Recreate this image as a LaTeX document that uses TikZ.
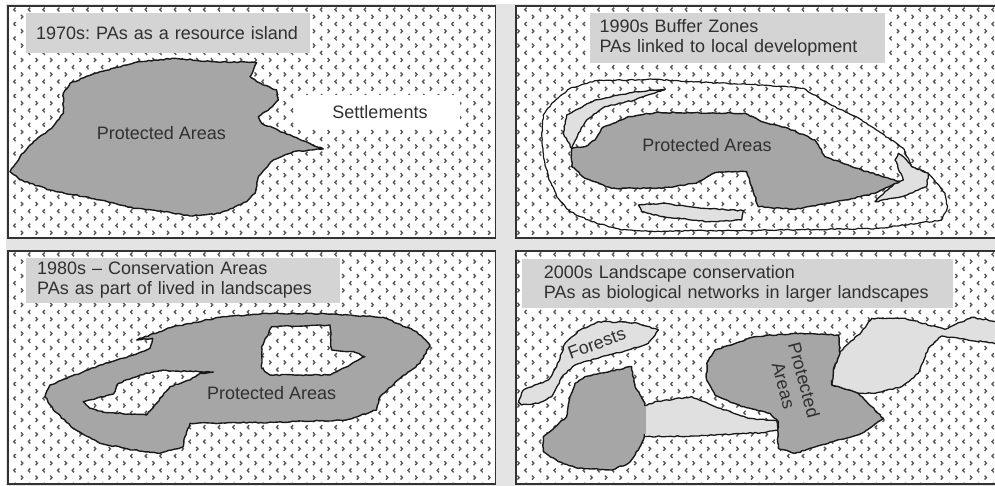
\documentclass[tikz,border=0pt]{standalone}
\usepackage{fontspec}
\setmainfont{Liberation Sans}
\usepackage{xcolor}
\usetikzlibrary{positioning, decorations.pathmorphing}
\definecolor{gapgray}{HTML}{E4E4E4}
\definecolor{pagray}{HTML}{A6A6A6}
\definecolor{buffergray}{HTML}{E0E0E0}
\definecolor{titlegray}{HTML}{D4D4D4}
\definecolor{inkgray}{HTML}{303030}
\tikzset{
    panel/.style={draw=black!80, line width=1.6pt, fill=white},
    chevron/.style={draw=black!65, line width=1.4pt},
    rough/.style={decorate, decoration={random steps, segment length=3pt, amplitude=0.6pt}, line join=round},
    area/.style={rough, draw=black!90, line width=1.4pt, fill=pagray},
    buffer/.style={rough, draw=black!90, line width=1.3pt, fill=buffergray},
    outline/.style={rough, draw=black!90, line width=1.2pt},
    title/.style={fill=titlegray, text=inkgray, anchor=north west, align=left, inner sep=0pt, font=\fontsize{18}{20}\selectfont},
    tag/.style={text=inkgray, align=center, inner sep=1pt, font=\fontsize{18}{21}\selectfont},
    zoomed/.style={x=0.33333pt, y=-0.33333pt},
}
\begin{document}
\frenchspacing
\begin{tikzpicture}[x=1pt, y=-1pt]
    \useasboundingbox (0,0) rectangle (995,486);
    \fill[gapgray] (6,4) rectangle (995,486);

    % Four panels
    \draw[panel] (8,6) rectangle (495.5,238);
    \draw[panel] (516,6) rectangle (997,238);
    \draw[panel] (8,251) rectangle (495.5,484);
    \draw[panel] (516,251) rectangle (997,484);

    % Dotted ground
    \begin{scope}
        \clip (9,7) rectangle (494.5,237) (517,7) rectangle (995,237)
              (9,252) rectangle (494.5,483) (517,252) rectangle (995,483);
        \foreach \col in {0,...,68}{
            \foreach \row in {0,...,33}{
                \draw[chevron] ({6.4+14.6*\col},{0.4+14.4*\row}) -- ++(1.8,2) -- ++(-1.8,2);
                \draw[chevron] ({15.6+14.6*\col},{7.6+14.4*\row}) -- ++(-1.8,2) -- ++(1.8,2);
            }
        }
    \end{scope}

    % 1970s
    \begin{scope}[zoomed]
        \draw[area] (30,515) -- (60,470) -- (100,425) -- (155,385) -- (190,340) -- (190,280) -- (210,250) -- (300,215) -- (420,185) -- (525,175) -- (640,185) -- (770,188) -- (750,230) -- (790,255) -- (830,270) -- (835,300) -- (810,325) -- (775,350) -- (785,370) -- (880,410) -- (970,447) -- (880,455) -- (820,480) -- (775,530) -- (765,580) -- (740,605) -- (660,640) -- (570,648) -- (500,635) -- (400,625) -- (300,600) -- (150,570) -- (60,540) -- cycle;
        \node[title, minimum width=284pt, minimum height=40pt, text width=274pt, inner xsep=5pt] (title70) at (78,38) {\hspace{5pt}1970s: PAs as a resource island};
        \node[tag] (pa70) at (484,400) {Protected Areas};
        \fill[white] (890,285) rectangle (1380,385);
        \node[tag] (settlements) at (1140,337) {Settlements};
    \end{scope}

    % 1990s
    \begin{scope}[shift={(495,0)}, zoomed]
        \draw[outline] (475,238) -- (400,240) -- (300,242) -- (225,265) -- (170,310) -- (145,345) -- (140,400) -- (145,470) -- (160,530) -- (185,590) -- (225,635) -- (290,665) -- (380,690) -- (480,695) -- (600,692) -- (720,692) -- (850,690) -- (1000,688) -- (1150,685) -- (1340,660) -- (1358,620) -- (1350,580) -- (1300,520) -- (1250,500) -- (1225,445) -- (1100,360) -- (1000,310) -- (925,265) -- (800,255) -- (650,248) -- cycle;
        \draw[buffer] (510,268) -- (420,275) -- (300,300) -- (215,345) -- (205,400) -- (230,445) -- (250,400) -- (275,360) -- (330,320) -- (420,300) -- cycle;
        \draw[buffer] (1210,460) -- (1200,480) -- (1225,540) -- (1205,545) -- (1140,605) -- (1220,590) -- (1295,560) -- (1300,520) -- (1250,500) -- (1225,470) -- cycle;
        \draw[buffer] (430,615) -- (500,610) -- (620,625) -- (745,632) -- (740,660) -- (640,665) -- (500,650) -- (440,635) -- cycle;
        \draw[area] (230,445) -- (270,440) -- (300,420) -- (320,385) -- (400,350) -- (480,338) -- (600,338) -- (750,340) -- (800,365) -- (880,385) -- (960,420) -- (990,470) -- (1100,510) -- (1215,545) -- (1140,580) -- (1050,600) -- (900,628) -- (790,620) -- (770,560) -- (755,515) -- (660,518) -- (600,550) -- (500,565) -- (350,565) -- (270,535) -- (230,500) -- cycle;
        \node[title, minimum width=295pt, minimum height=50pt, text width=283pt, inner xsep=6pt] (title90) at (283,38) {\hspace{4pt}1990s Buffer Zones\\\hspace{4pt}PAs linked to local development};
        \node[tag] (pa90) at (636,435) {Protected Areas};
    \end{scope}

    % 1980s
    \begin{scope}[shift={(0,240)}, zoomed]
        \draw[area, even odd rule] (135,470) -- (150,435) -- (300,375) -- (400,345) -- (450,325) -- (458,295) -- (410,300) -- (520,260) -- (670,230) -- (800,220) -- (1000,222) -- (1150,232) -- (1250,275) -- (1290,315) -- (1260,370) -- (1200,415) -- (1140,470) -- (1130,510) -- (1040,540) -- (820,547) -- (570,550) -- (555,590) -- (550,620) -- (480,640) -- (400,630) -- (300,610) -- (220,565) -- (160,510) -- cycle
            (250,485) -- (340,462) -- (355,430) -- (420,405) -- (480,392) -- (640,396) -- (600,400) -- (570,420) -- (510,440) -- (470,490) -- (440,525) -- (320,518) -- (270,505) -- cycle
            (785,320) -- (815,260) -- (990,255) -- (995,330) -- (1060,335) -- (1095,350) -- (1050,375) -- (990,405) -- (810,405) -- (785,385) -- cycle;
        \node[title, minimum width=314pt, minimum height=45pt, text width=302pt, inner xsep=6pt] (title80) at (78,52) {\hspace{5pt}1980s -- Conservation Areas\\\hspace{5pt}PAs as part of lived in landscapes};
        \node[tag] (pa80) at (815,460) {Protected Areas};
    \end{scope}

    % 2000s
    \begin{scope}[shift={(495,240)}, zoomed]
        \draw[buffer] (70,485) -- (85,450) -- (160,420) -- (185,380) -- (210,310) -- (255,270) -- (310,245) -- (420,248) -- (490,270) -- (460,310) -- (400,330) -- (320,350) -- (240,375) -- (205,405) -- (170,470) -- (130,490) -- (80,495) -- cycle;
        \draw[buffer] (448,500) -- (480,485) -- (590,470) -- (660,500) -- (760,535) -- (845,542) -- (850,570) -- (800,578) -- (600,588) -- (448,590) -- cycle;
        \draw[buffer] (1035,335) -- (1100,275) -- (1130,235) -- (1230,235) -- (1350,268) -- (1430,232) -- (1510,245) -- (1510,312) -- (1340,288) -- (1300,325) -- (1270,400) -- (1220,440) -- (1140,460) -- (1090,460) -- (1010,435) -- (1015,390) -- cycle;
        \draw[area] (145,590) -- (215,530) -- (225,470) -- (240,430) -- (270,410) -- (410,380) -- (420,440) -- (450,490) -- (448,590) -- (430,630) -- (400,670) -- (350,690) -- (250,685) -- (190,665) -- (145,635) -- cycle;
        \draw[pagray, line width=2.4pt] (448,498) -- (448,582);
        \draw[area] (635,370) -- (660,330) -- (780,290) -- (900,280) -- (1030,285) -- (1035,340) -- (1015,390) -- (1010,435) -- (1090,460) -- (1165,535) -- (1100,580) -- (1000,610) -- (900,640) -- (850,625) -- (848,570) -- (850,545) -- (825,520) -- (740,500) -- (660,465) -- (635,420) -- cycle;
        \node[title, minimum width=430pt, minimum height=49pt, text width=407pt, inner xsep=12pt] (title00) at (80,57) {\hspace{10pt}2000s Landscape conservation\\\hspace{10pt}PAs as biological networks in larger landscapes};
        \node[tag, rotate=20] (forests) at (305,310) {Forests};
        \node[tag, rotate=-75] (pa00) at (897,428) {Protected\\Areas};
    \end{scope}
\end{tikzpicture}
\end{document}
